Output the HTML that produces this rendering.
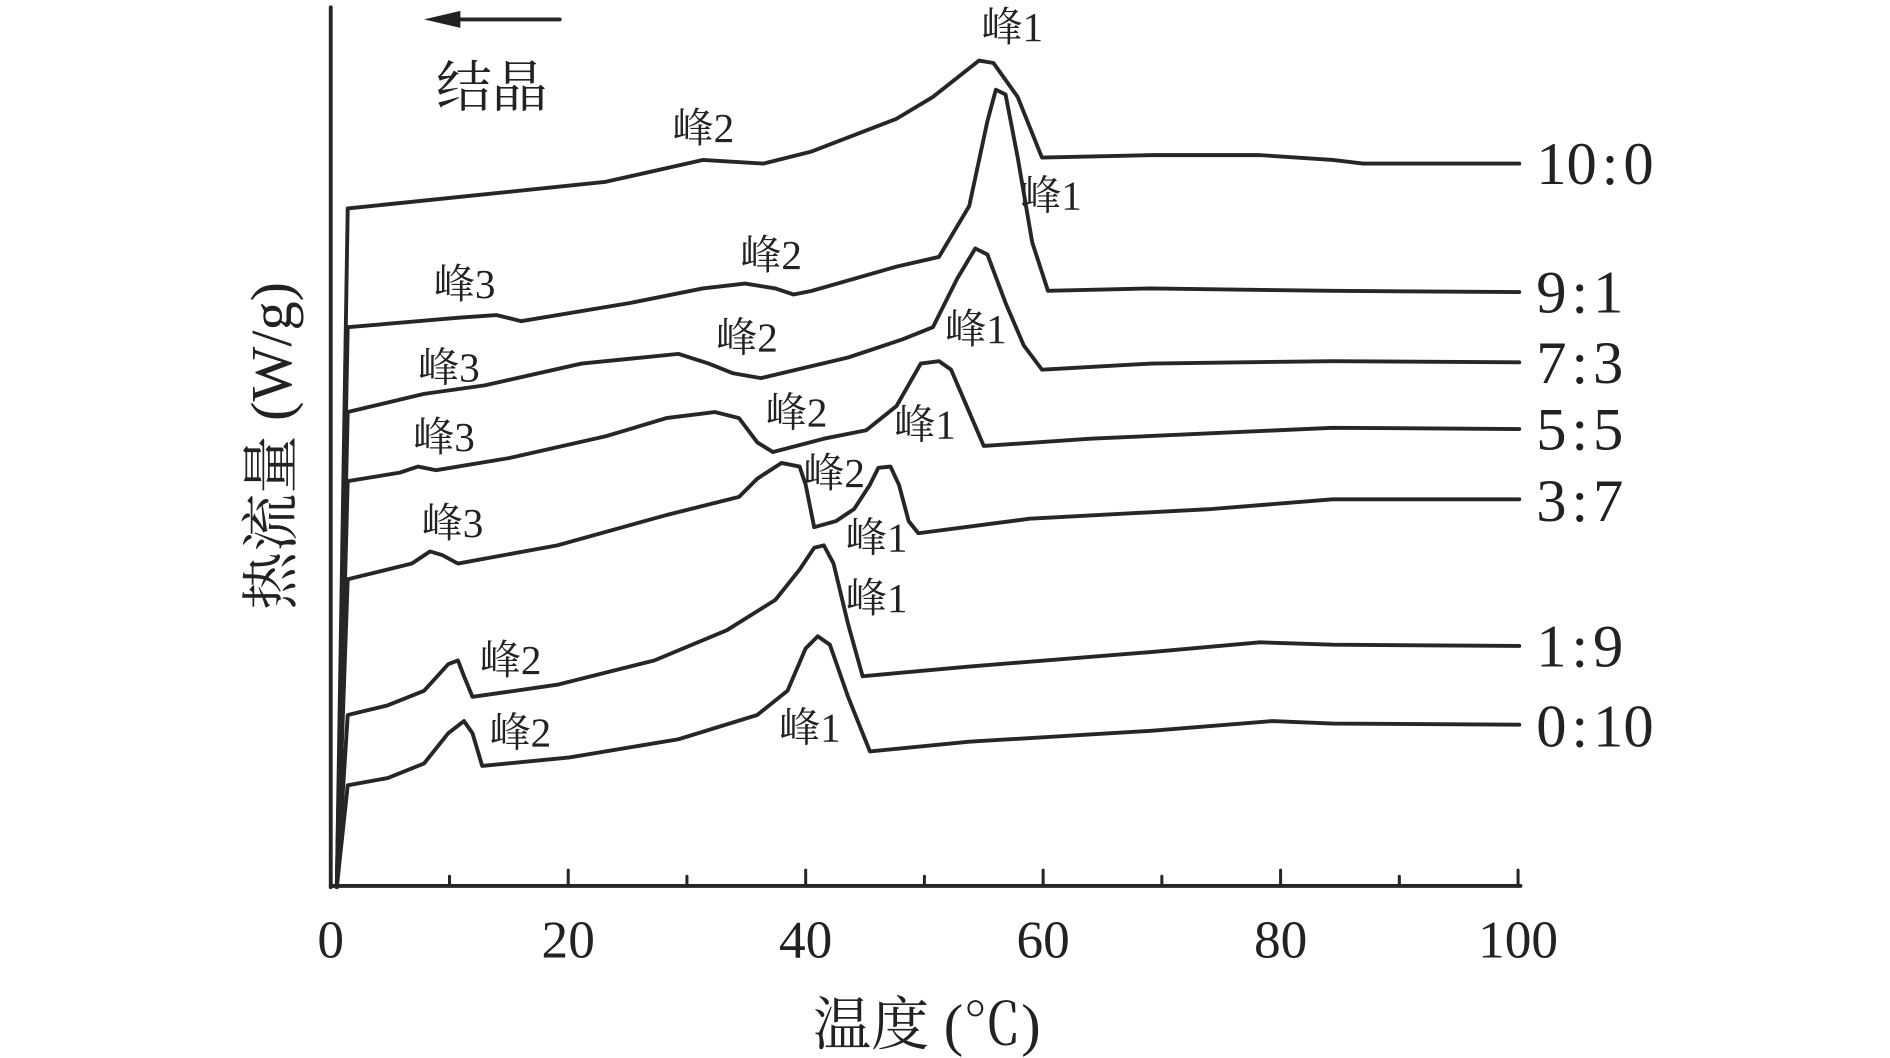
<!DOCTYPE html>
<html><head><meta charset="utf-8"><style>
html,body{margin:0;padding:0;background:#fff;}
svg{display:block}
text{font-family:"Liberation Serif","Noto Serif CJK SC",serif;fill:#222}
</style></head><body>
<svg width="1890" height="1058" viewBox="0 0 1560 873" preserveAspectRatio="none" xmlns="http://www.w3.org/2000/svg">
<g stroke="#262626" fill="none" stroke-width="3.2" stroke-linejoin="round" stroke-linecap="round">
<line x1="273" y1="6" x2="273" y2="732"/>
<line x1="273" y1="731" x2="1255" y2="731"/>
<g stroke-width="2.5">
<line x1="371" y1="731" x2="371" y2="723"/><line x1="469" y1="731" x2="469" y2="718"/>
<line x1="567" y1="731" x2="567" y2="723"/><line x1="665" y1="731" x2="665" y2="718"/>
<line x1="763" y1="731" x2="763" y2="723"/><line x1="861" y1="731" x2="861" y2="718"/>
<line x1="959" y1="731" x2="959" y2="723"/><line x1="1057" y1="731" x2="1057" y2="718"/>
<line x1="1155" y1="731" x2="1155" y2="723"/><line x1="1253" y1="731" x2="1253" y2="718"/>
</g>
<line x1="380" y1="16" x2="462" y2="16"/>
<polyline points="278,732 287,172 500,150 580,132 630,135 670,125 740,98 770,80 808,50 820,52 840,80 860,130 950,128 1040,128 1100,132 1125,135 1254,135"/>
<polyline points="278,732 287,270 380,262 410,260 430,265 520,250 580,238 615,234 640,238 655,243 670,240 740,220 775,212 800,170 815,100 822,74 830,78 840,130 852,200 865,240 950,238 1100,240 1254,241"/>
<polyline points="278,732 287,340 350,325 400,318 480,300 530,295 560,292 585,300 605,308 628,312 700,295 745,280 770,270 790,230 805,205 815,210 830,250 845,285 860,305 950,300 1100,298 1254,299"/>
<polyline points="278,732 287,397 330,390 345,385 360,388 420,378 500,360 550,345 590,340 610,345 625,365 638,373 680,362 715,355 740,335 760,300 775,298 785,305 800,340 812,368 900,362 1100,353 1254,354"/>
<polyline points="278,732 287,478 340,465 355,455 365,458 378,465 460,450 550,425 610,410 625,395 645,382 660,385 665,400 672,435 690,430 705,420 718,400 725,386 735,385 742,400 750,430 758,440 850,428 1000,420 1100,412 1254,412"/>
<polyline points="278,732 287,590 320,582 350,570 370,548 378,545 383,558 390,575 460,565 540,545 600,520 640,495 660,470 672,452 680,450 688,465 700,515 712,558 800,550 950,538 1040,530 1100,532 1254,533"/>
<polyline points="278,732 287,648 320,642 350,630 370,605 383,595 390,605 398,632 470,625 560,610 625,590 650,570 665,535 675,525 685,532 700,575 718,620 800,612 950,603 1050,595 1100,597 1254,598"/>
</g>
<polygon points="350,16 380,9 380,23" fill="#222"/>
<g font-size="34">
<text x="810" y="34">峰1</text><text x="555" y="117">峰2</text>
<text x="842" y="173">峰1</text><text x="611" y="222">峰2</text><text x="358" y="246">峰3</text>
<text x="780" y="283">峰1</text><text x="591" y="290">峰2</text><text x="345" y="315">峰3</text>
<text x="632" y="352">峰2</text><text x="738" y="362">峰1</text><text x="341" y="372">峰3</text>
<text x="663" y="402">峰2</text><text x="348" y="443">峰3</text><text x="698" y="455">峰1</text>
<text x="698" y="505">峰1</text><text x="396" y="556">峰2</text>
<text x="404" y="616">峰2</text><text x="643" y="612">峰1</text>
</g>
<text x="360" y="88" font-size="46">结晶</text>
<g font-size="50">
<text x="1268" y="152">10<tspan dx="4">:</tspan><tspan dx="4">0</tspan></text>
<text x="1268" y="258">9<tspan dx="4">:</tspan><tspan dx="4">1</tspan></text>
<text x="1268" y="316">7<tspan dx="4">:</tspan><tspan dx="4">3</tspan></text>
<text x="1268" y="371">5<tspan dx="4">:</tspan><tspan dx="4">5</tspan></text>
<text x="1268" y="430">3<tspan dx="4">:</tspan><tspan dx="4">7</tspan></text>
<text x="1268" y="550">1<tspan dx="4">:</tspan><tspan dx="4">9</tspan></text>
<text x="1268" y="616">0<tspan dx="4">:</tspan><tspan dx="4">10</tspan></text>
</g>
<g font-size="44" text-anchor="middle">
<text x="273" y="790">0</text><text x="469" y="790">20</text><text x="665" y="790">40</text>
<text x="861" y="790">60</text><text x="1057" y="790">80</text><text x="1253" y="790">100</text>
</g>
<text x="765" y="862" font-size="48" text-anchor="middle">温度 (℃)</text>
<text transform="translate(240,368) rotate(-90)" font-size="48" text-anchor="middle">热流量 (W/g)</text>
</svg>
</body></html>
